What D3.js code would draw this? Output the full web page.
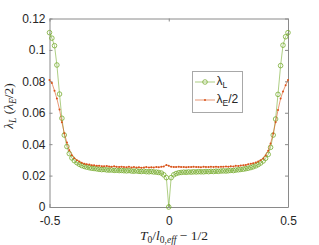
<!DOCTYPE html>
<html>
<head>
<meta charset="utf-8">
<script src="https://cdn.jsdelivr.net/npm/d3@7"></script>
<style>
  body { margin: 0; background: #fff; }
  svg text { font-family: "Liberation Sans", Arial, sans-serif; fill: #262626; }
  .math { font-family: "Liberation Serif", "Times New Roman", serif; }
</style>
</head>
<body>
<div id="plot"></div>
<script>
// x values: T0/l0,eff - 1/2
const xVals = [
  -0.500, -0.490, -0.479, -0.469, -0.458, -0.448, -0.438, -0.427, -0.417, -0.406,
  -0.396, -0.385, -0.375, -0.365, -0.354, -0.344, -0.333, -0.323, -0.313, -0.302,
  -0.292, -0.281, -0.271, -0.260, -0.250, -0.240, -0.229, -0.219, -0.208, -0.198,
  -0.188, -0.177, -0.167, -0.156, -0.146, -0.135, -0.125, -0.115, -0.104, -0.094,
  -0.083, -0.073, -0.063, -0.052, -0.042, -0.031, -0.021, -0.010, 0.000,
  0.010, 0.021, 0.031, 0.042, 0.052, 0.063, 0.073, 0.083, 0.094, 0.104,
  0.115, 0.125, 0.135, 0.146, 0.156, 0.167, 0.177, 0.188, 0.198, 0.208,
  0.219, 0.229, 0.240, 0.250, 0.260, 0.271, 0.281, 0.292, 0.302, 0.313,
  0.323, 0.333, 0.344, 0.354, 0.365, 0.375, 0.385, 0.396, 0.406, 0.417,
  0.427, 0.438, 0.448, 0.458, 0.469, 0.479, 0.490, 0.500
];

// lambda_L (green circles)
const lambdaL = [
  0.1110, 0.1075, 0.1027, 0.0904, 0.0719, 0.0565, 0.0458, 0.0385, 0.0340, 0.0312,
  0.0295, 0.0282, 0.0272, 0.0264, 0.0258, 0.0254, 0.0250, 0.0247, 0.0245, 0.0243,
  0.0240, 0.0238, 0.0239, 0.0236, 0.0235, 0.0236, 0.0233, 0.0234, 0.0232, 0.0233,
  0.0231, 0.0230, 0.0232, 0.0229, 0.0228, 0.0230, 0.0227, 0.0226, 0.0228, 0.0225,
  0.0224, 0.0226, 0.0223, 0.0222, 0.0220, 0.0216, 0.0205, 0.0187, 0.0000,
  0.0187, 0.0205, 0.0213, 0.0218, 0.0220, 0.0222, 0.0221, 0.0223, 0.0222, 0.0224,
  0.0223, 0.0225, 0.0224, 0.0224, 0.0226, 0.0225, 0.0227, 0.0226, 0.0228, 0.0227,
  0.0229, 0.0230, 0.0229, 0.0231, 0.0233, 0.0232, 0.0235, 0.0237, 0.0239, 0.0241,
  0.0244, 0.0247, 0.0251, 0.0256, 0.0262, 0.0270, 0.0280, 0.0293, 0.0310, 0.0335,
  0.0380, 0.0458, 0.0560, 0.0717, 0.0900, 0.1030, 0.1084, 0.1110
];

// lambda_E / 2 (red dots)
const lambdaE2 = [
  0.0808, 0.0790, 0.0740, 0.0690, 0.0620, 0.0540, 0.0470, 0.0410, 0.0362, 0.0330,
  0.0310, 0.0298, 0.0290, 0.0282, 0.0276, 0.0272, 0.0270, 0.0266, 0.0265, 0.0262,
  0.0263, 0.0260, 0.0259, 0.0261, 0.0258, 0.0257, 0.0259, 0.0256, 0.0255, 0.0257,
  0.0254, 0.0253, 0.0256, 0.0252, 0.0254, 0.0251, 0.0253, 0.0250, 0.0252, 0.0254,
  0.0251, 0.0253, 0.0252, 0.0255, 0.0253, 0.0256, 0.0258, 0.0268, 0.0262,
  0.0256, 0.0255, 0.0254, 0.0256, 0.0254, 0.0255, 0.0253, 0.0255, 0.0254, 0.0256,
  0.0254, 0.0255, 0.0253, 0.0256, 0.0255, 0.0254, 0.0256, 0.0255, 0.0257, 0.0255,
  0.0256, 0.0256, 0.0258, 0.0257, 0.0259, 0.0258, 0.0262, 0.0261, 0.0264, 0.0266,
  0.0268, 0.0272, 0.0275, 0.0278, 0.0283, 0.0290, 0.0298, 0.0308, 0.0328, 0.0358,
  0.0405, 0.0468, 0.0540, 0.0617, 0.0690, 0.0735, 0.0775, 0.0808
];

const xTicks = [-0.5, 0, 0.5];
const yTicks = [0, 0.02, 0.04, 0.06, 0.08, 0.1, 0.12];

const green = "#77AC30", red = "#D95319";
const W = 319, H = 245;
const box = {left: 49.5, right: 288, top: 18.5, bottom: 207};

const x = d3.scaleLinear().domain([-0.5, 0.5]).range([box.left, box.right]);
const y = d3.scaleLinear().domain([0, 0.12]).range([box.bottom, box.top]);

const svg = d3.select("#plot").append("svg")
    .attr("width", W)
    .attr("height", H);

const data = xVals.map((v, i) => ({x: v, l: lambdaL[i], e: lambdaE2[i]}));

// axes (MATLAB-like box with inward ticks)
function styleAxis(g) {
  g.selectAll("path.domain").attr("stroke", "#8a8a8a");
  g.selectAll(".tick line").attr("stroke", "#8a8a8a");
  g.selectAll(".tick text").attr("font-size", 12).attr("fill", "#262626")
    .attr("font-family", "'Liberation Sans', Arial, sans-serif");
}

svg.append("g")
  .attr("transform", `translate(${box.left},0)`)
  .call(d3.axisLeft(y).tickValues(yTicks).tickSize(-3).tickSizeOuter(0).tickPadding(4)
    .tickFormat(d => d === 0 ? "0" : String(d)))
  .call(styleAxis);

svg.append("g")
  .attr("transform", `translate(${box.right},0)`)
  .call(d3.axisRight(y).tickValues(yTicks).tickSize(-3).tickSizeOuter(0).tickFormat(""))
  .call(styleAxis);

svg.append("g")
  .attr("transform", `translate(0,${box.bottom})`)
  .call(d3.axisBottom(x).tickValues(xTicks).tickSize(-3).tickSizeOuter(0).tickPadding(9)
    .tickFormat(d => d === 0 ? "0" : String(d)))
  .call(styleAxis);

svg.append("g")
  .attr("transform", `translate(0,${box.top})`)
  .call(d3.axisTop(x).tickValues(xTicks).tickSize(-3).tickSizeOuter(0).tickFormat(""))
  .call(styleAxis);

// lambda_L series
const lineL = d3.line().x(d => x(d.x)).y(d => y(d.l));
svg.append("path")
  .datum(data)
  .attr("fill", "none")
  .attr("stroke", green)
  .attr("stroke-width", 0.6)
  .attr("d", lineL);

svg.append("g").selectAll("circle")
  .data(data)
  .join("circle")
  .attr("cx", d => x(d.x))
  .attr("cy", d => y(d.l))
  .attr("r", 2.3)
  .attr("fill", "none")
  .attr("stroke", green)
  .attr("stroke-width", 0.8);

// lambda_E/2 series
const lineE = d3.line().x(d => x(d.x)).y(d => y(d.e));
svg.append("path")
  .datum(data)
  .attr("fill", "none")
  .attr("stroke", red)
  .attr("stroke-width", 0.6)
  .attr("d", lineE);

svg.append("g").selectAll("circle")
  .data(data)
  .join("circle")
  .attr("cx", d => x(d.x))
  .attr("cy", d => y(d.e))
  .attr("r", 1)
  .attr("fill", red);

// legend
const leg = svg.append("g");
leg.append("rect")
  .attr("x", 192.5).attr("y", 71.5)
  .attr("width", 50).attr("height", 41)
  .attr("fill", "#fff")
  .attr("stroke", "#a8a8a8");

const ly1 = 82, ly2 = 100;
leg.append("line").attr("x1", 195).attr("x2", 215).attr("y1", ly1).attr("y2", ly1)
  .attr("stroke", green).attr("stroke-width", 0.6);
leg.append("circle").attr("cx", 205).attr("cy", ly1).attr("r", 2.3)
  .attr("fill", "none").attr("stroke", green).attr("stroke-width", 0.8);
leg.append("line").attr("x1", 195).attr("x2", 215).attr("y1", ly2).attr("y2", ly2)
  .attr("stroke", red).attr("stroke-width", 0.6);
leg.append("circle").attr("cx", 205).attr("cy", ly2).attr("r", 1).attr("fill", red);

const t1 = leg.append("text").attr("x", 216.5).attr("y", ly1 + 3).attr("font-size", 12);
t1.append("tspan").text("λ");
t1.append("tspan").attr("font-size", 8.5).attr("dy", 3).text("L");

const t2 = leg.append("text").attr("x", 216.5).attr("y", ly2 + 3).attr("font-size", 12);
t2.append("tspan").text("λ");
t2.append("tspan").attr("font-size", 8.5).attr("dy", 3).text("E");
t2.append("tspan").attr("dy", -3).text("/2");

// y label
const yl = svg.append("text")
  .attr("class", "math")
  .attr("transform", "translate(13,106) rotate(-90)")
  .attr("text-anchor", "middle")
  .attr("font-size", 13.5);
yl.append("tspan").attr("font-style", "italic").text("λ");
yl.append("tspan").attr("font-style", "italic").attr("font-size", 9.5).attr("dy", 3).text("L");
yl.append("tspan").attr("dy", -3).text(" (");
yl.append("tspan").attr("font-style", "italic").text("λ");
yl.append("tspan").attr("font-style", "italic").attr("font-size", 9.5).attr("dy", 3).text("E");
yl.append("tspan").attr("dy", -3).text("/2)");

// x label
const xl = svg.append("text")
  .attr("class", "math")
  .attr("x", 140).attr("y", 240)
  .attr("font-size", 13.5);
xl.append("tspan").attr("font-style", "italic").text("T");
xl.append("tspan").attr("font-size", 9.5).attr("dy", 3).text("0");
xl.append("tspan").attr("dy", -3).text("/");
xl.append("tspan").attr("font-style", "italic").text("l");
xl.append("tspan").attr("font-size", 9.5).attr("dy", 3).text("0,");
xl.append("tspan").attr("font-size", 9.5).attr("font-style", "italic").text("eff");
xl.append("tspan").attr("dy", -3).text(" − 1/2");
</script>
</body>
</html>
